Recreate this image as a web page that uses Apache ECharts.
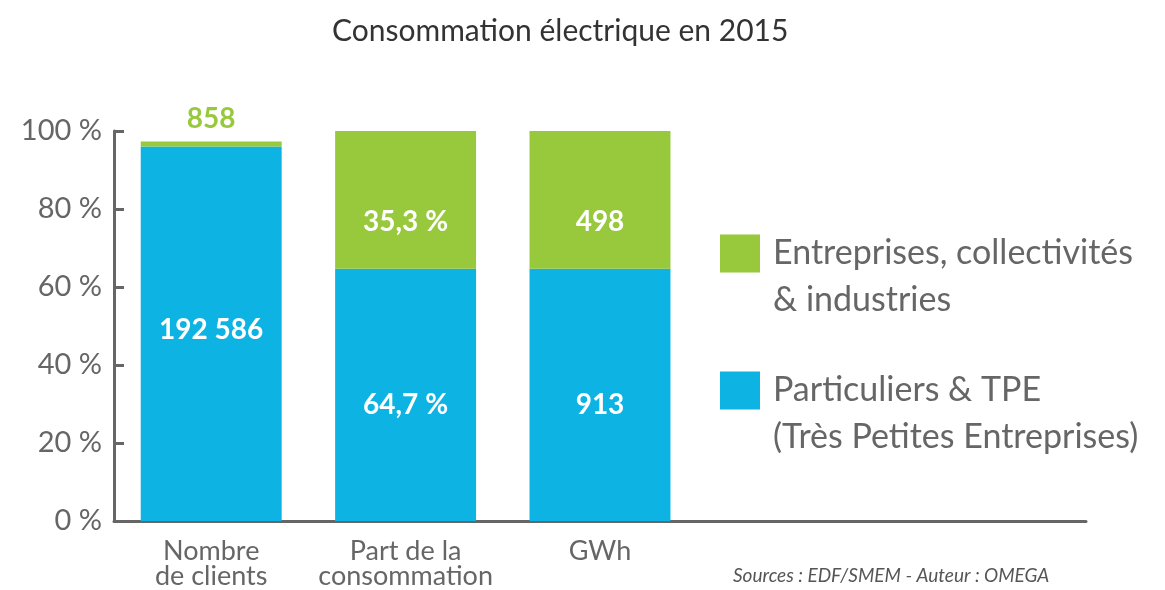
<!DOCTYPE html>
<html>
<head>
<meta charset="utf-8">
<script src="https://cdn.jsdelivr.net/npm/echarts@6/dist/echarts.min.js"></script>
<style>
html, body { margin: 0; padding: 0; background: #fff; }
#chart { width: 1165px; height: 590px; }
</style>
</head>
<body>
<div id="chart"></div>
<script>
// categories (the last two are empty slots so the axis runs under the legend)
var categories = ['Nombre\nde clients', 'Part de la\nconsommation', 'GWh', '', ''];
var yTicks = [0, 20, 40, 60, 80, 100];

// bar heights in % as drawn
var particuliers = [96.0, 64.7, 64.7];
var entreprises = [1.3, 35.3, 35.3];

// texts shown on the bars
var particuliersLabels = ['192 586', '64,7 %', '913'];
var entreprisesLabels = ['858', '35,3 %', '498'];

var nameEnt = 'Entreprises, collectivités\n& industries';
var namePart = 'Particuliers & TPE\n(Très Petites Entreprises)';

var blue = '#0db4e3';
var green = '#98c93c';
var grey = '#666';
var font = 'Lato';

var myChart = echarts.init(document.getElementById('chart'));

var partData = particuliers.map(function(v, i) {
	var item = { value: v };
	if (i === 0) item.label = { offset: [0, -4] };
	return item;
});
var entData = entreprises.map(function(v, i) {
	var item = { value: v };
	if (i === 0) {
		// trop fin pour un label dedans : au-dessus
		item.label = { position: 'top', distance: 9, offset: [0, 0], color: green };
	}
	return item;
});

var option = {
	animation: false,
	title: [{
		text: 'Consommation électrique en 2015',
		left: 327,
		top: 11,
		textStyle: { fontFamily: font, fontSize: 30, fontWeight: 'normal', color: '#333' }
	}, {
		text: 'Sources : EDF/SMEM - Auteur : OMEGA',
		left: 733,
		top: 566,
		padding: 0,
		textStyle: { fontFamily: font, fontSize: 19, fontStyle: 'italic', fontWeight: 'normal', color: '#555' }
	}],
	legend: {
		orient: 'vertical',
		left: 715,
		top: 178,
		itemWidth: 40,
		itemHeight: 38,
		itemGap: -4,
		icon: 'rect',
		selectedMode: false,
		data: [nameEnt, namePart],
		// ligne vide devant : la 1re ligne du texte reste alignée sur le carré
		formatter: function(name) { return '\n' + name; },
		textStyle: {
			fontFamily: font,
			fontSize: 34,
			color: grey,
			lineHeight: 47,
			padding: [0, 0, 0, 8]
		}
	},
	grid: {
		left: 114,
		top: 131,
		width: 972,
		height: 392
	},
	xAxis: {
		type: 'category',
		data: categories,
		axisLine: { lineStyle: { color: grey, width: 3 } },
		axisTick: {
			inside: true,
			length: 8,
			lineStyle: { color: grey, width: 3 },
			interval: function(index) { return index >= 1 && index <= 3; }
		},
		axisLabel: {
			interval: 0,
			margin: 18,
			fontFamily: font,
			fontSize: 27,
			lineHeight: 25,
			color: grey
		}
	},
	yAxis: {
		type: 'value',
		min: yTicks[0],
		max: yTicks[yTicks.length - 1],
		interval: 20,
		splitLine: { show: false },
		axisLine: { show: true, lineStyle: { color: grey, width: 3 } },
		axisTick: { show: true, inside: true, length: 10, lineStyle: { color: grey, width: 3 } },
		axisLabel: {
			margin: 12,
			fontFamily: font,
			fontSize: 29,
			color: grey,
			formatter: '{value} %'
		}
	},
	series: [{
		name: namePart,
		type: 'bar',
		stack: 'total',
		barCategoryGap: '27.5%',
		itemStyle: { color: blue },
		data: partData,
		label: {
			show: true,
			position: 'inside',
			offset: [0, 10],
			fontFamily: font,
			fontSize: 28,
			fontWeight: 'bold',
			color: '#fff',
			formatter: function(p) { return particuliersLabels[p.dataIndex]; }
		}
	}, {
		name: nameEnt,
		type: 'bar',
		stack: 'total',
		itemStyle: { color: green },
		data: entData,
		label: {
			show: true,
			position: 'inside',
			offset: [0, 22],
			fontFamily: font,
			fontSize: 28,
			fontWeight: 'bold',
			color: '#fff',
			formatter: function(p) { return entreprisesLabels[p.dataIndex]; }
		}
	}]
};

myChart.setOption(option);
</script>
</body>
</html>
